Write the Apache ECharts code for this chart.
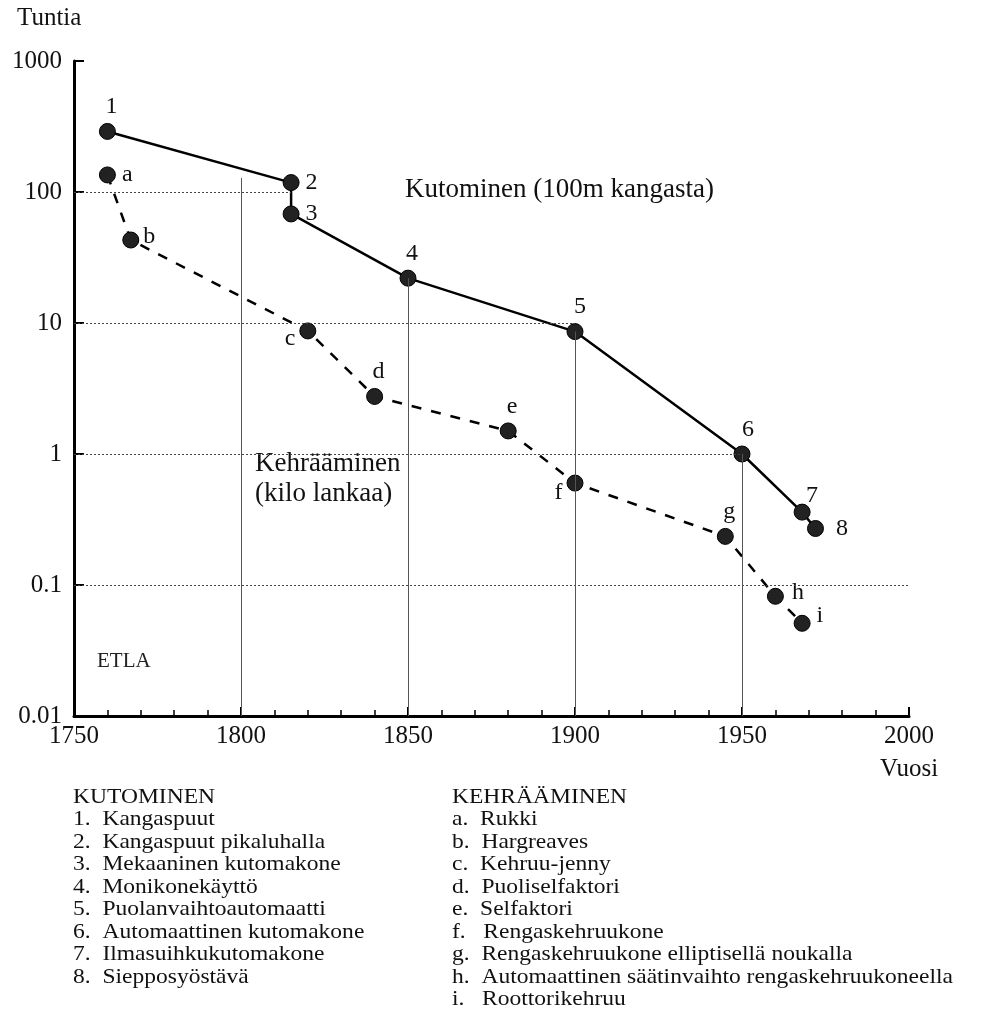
<!DOCTYPE html>
<html>
<head>
<meta charset="utf-8">
<script src="https://cdn.jsdelivr.net/npm/echarts@6/dist/echarts.min.js"></script>
<style>
  html, body { margin: 0; padding: 0; background: #fff; }
  #chart { width: 996px; height: 1015px; }
</style>
</head>
<body>
<div id="chart"></div>
<script>
// kutominen (100 m kangasta), tuntia
var kutYears = [1760, 1815, 1815, 1850, 1900, 1950, 1968, 1972];
var kutHours = [290, 118, 68, 22, 8.6, 1.0, 0.36, 0.27];
var kutNames = ['1', '2', '3', '4', '5', '6', '7', '8'];

// kehrääminen (kilo lankaa), tuntia
var kehYears = [1760, 1767, 1820, 1840, 1880, 1900, 1945, 1960, 1968];
var kehHours = [135, 43, 8.7, 2.75, 1.5, 0.6, 0.235, 0.082, 0.051];
var kehNames = ['a', 'b', 'c', 'd', 'e', 'f', 'g', 'h', 'i'];

var yTickLabels = ['0.01', '0.1', '1', '10', '100', '1000'];
var xTickLabels = ['1750', '1800', '1850', '1900', '1950', '2000'];

// apuviivat: [arvo, loppuvuosi] ja [vuosi, yläraja]
var hGuides = [[100, 1815], [10, 1900], [1, 1950], [0.1, 2000]];
var vGuides = [[1800, 128], [1850, 22], [1900, 8.6], [1950, 1.0]];

var kutLegend = ['KUTOMINEN', '1.  Kangaspuut', '2.  Kangaspuut pikaluhalla', '3.  Mekaaninen kutomakone',
  '4.  Monikonekäyttö', '5.  Puolanvaihtoautomaatti', '6.  Automaattinen kutomakone',
  '7.  Ilmasuihkukutomakone', '8.  Siepposyöstävä'];
var kehLegend = ['KEHRÄÄMINEN', 'a.  Rukki', 'b.  Hargreaves', 'c.  Kehruu-jenny', 'd.  Puoliselfaktori',
  'e.  Selfaktori', 'f.   Rengaskehruukone', 'g.  Rengaskehruukone elliptisellä noukalla',
  'h.  Automaattinen säätinvaihto rengaskehruukoneella', 'i.   Roottorikehruu'];

var FONT = 'Liberation Serif';
var chart = echarts.init(document.getElementById('chart'));

var kutLabelPos = ['top', 'right', 'right', 'top', 'top', 'top', 'top', 'right'];
var kutLabelOff = [[4, 0], [2, 0], [2, 0], [4, 0], [5, 0], [6, 0], [10, 8], [8, 0]];
var kehLabelPos = ['right', 'right', 'left', 'top', 'top', 'left', 'top', 'right', 'right'];
var kehLabelOff = [[2, 0], [0, -3], [0, 8], [4, 0], [4, 0], [0, 10], [4, 0], [4, -4], [2, -8]];

function buildData(years, hours, names, pos, off) {
  return years.map(function (y, i) {
    return {
      value: [y, hours[i]],
      name: names[i],
      label: { position: pos[i], offset: off[i] }
    };
  });
}

var markData = [];
hGuides.forEach(function (g) {
  markData.push([{ coord: [1750, g[0]], lineStyle: { type: [2, 2], color: '#444', width: 1 } },
                 { coord: [g[1], g[0]] }]);
});
vGuides.forEach(function (g) {
  markData.push([{ coord: [g[0], 0.01], lineStyle: { type: 'solid', color: '#555', width: 1 } },
                 { coord: [g[0], g[1]] }]);
});

var labelStyle = {
  show: true,
  formatter: '{b}',
  fontFamily: FONT,
  fontSize: 24,
  color: '#111',
  distance: 4
};

chart.setOption({
  backgroundColor: '#fff',
  animation: false,
  grid: { left: 74, right: 87, top: 61, bottom: 299 },
  xAxis: {
    type: 'value',
    min: 1750,
    max: 2000,
    interval: 50,
    axisLine: { show: true, lineStyle: { color: '#000', width: 3 } },
    axisTick: { show: true, inside: true, length: 9, lineStyle: { color: '#000', width: 2 } },
    minorTick: { show: true, splitNumber: 5, length: 6, lineStyle: { color: '#000', width: 1.5 } },
    splitLine: { show: false },
    axisLabel: {
      fontFamily: FONT, fontSize: 25, color: '#111', margin: 8,
      formatter: function (v) { return xTickLabels[Math.round((v - 1750) / 50)]; }
    }
  },
  yAxis: {
    type: 'log',
    logBase: 10,
    min: 0.01,
    max: 1000,
    axisLine: { show: true, lineStyle: { color: '#000', width: 3 } },
    axisTick: { show: true, inside: true, length: 10, lineStyle: { color: '#000', width: 2 } },
    splitLine: { show: false },
    axisLabel: {
      fontFamily: FONT, fontSize: 25, color: '#111', margin: 12,
      formatter: function (v) { return yTickLabels[Math.round(Math.log10(v)) + 2]; }
    }
  },
  series: [
    {
      name: 'Kutominen',
      type: 'line',
      data: buildData(kutYears, kutHours, kutNames, kutLabelPos, kutLabelOff),
      symbol: 'circle',
      symbolSize: 16,
      itemStyle: { color: '#222', borderColor: '#000', borderWidth: 1 },
      lineStyle: { color: '#000', width: 2.5 },
      label: labelStyle,
      z: 3,
      markLine: {
        silent: true,
        symbol: 'none',
        label: { show: false },
        animation: false,
        data: markData
      }
    },
    {
      name: 'Kehrääminen',
      type: 'line',
      data: buildData(kehYears, kehHours, kehNames, kehLabelPos, kehLabelOff),
      symbol: 'circle',
      symbolSize: 16,
      itemStyle: { color: '#222', borderColor: '#000', borderWidth: 1 },
      lineStyle: { color: '#000', width: 2.5, type: [10, 10] },
      label: labelStyle,
      z: 3
    }
  ],
  graphic: [
    { type: 'text', left: 17, top: 6, style: { text: 'Tuntia', fontFamily: FONT, fontSize: 25, fill: '#111' } },
    { type: 'text', left: 880, top: 757, style: { text: 'Vuosi', fontFamily: FONT, fontSize: 25, fill: '#111' } },
    { type: 'text', left: 405, top: 176, style: { text: 'Kutominen (100m kangasta)', fontFamily: FONT, fontSize: 27, fill: '#111' } },
    { type: 'text', left: 255, top: 449, style: { text: 'Kehrääminen\n(kilo lankaa)', fontFamily: FONT, fontSize: 27, lineHeight: 30, fill: '#111' } },
    { type: 'text', left: 97, top: 651, style: { text: 'ETLA', fontFamily: FONT, fontSize: 21, fill: '#222' } },
    { type: 'text', x: 73, y: 786, scaleX: 1.12,
      style: { text: kutLegend.join('\n'), fontFamily: FONT, fontSize: 21, lineHeight: 22.5, fill: '#111' } },
    { type: 'text', x: 452, y: 786, scaleX: 1.12,
      style: { text: kehLegend.join('\n'), fontFamily: FONT, fontSize: 21, lineHeight: 22.5, fill: '#111' } }
  ]
});
</script>
</body>
</html>
